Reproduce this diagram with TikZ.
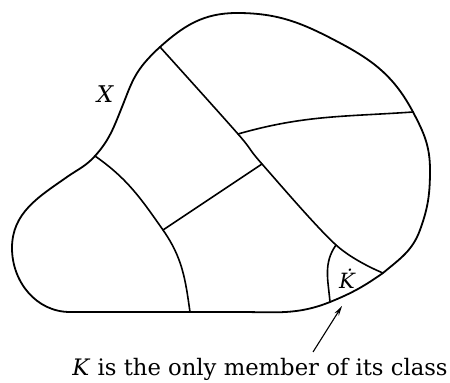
\documentclass[tikz,border=0pt]{standalone}
\usepackage{fontspec}
\setmainfont{DejaVu Serif}
\usepackage{tikz}
\usetikzlibrary{arrows.meta}
\tikzset{
  rim/.style={line width=1.8pt, line join=round, line cap=round},
  cut/.style={line width=1.6pt, line cap=round},
  lbl/.style={font=\fontsize{23}{26}\selectfont\itshape, inner sep=0pt},
}

\begin{document}
\begin{tikzpicture}[x=1pt, y=1pt]
  \useasboundingbox (0,0) rectangle (450,383);
  % junctions on the rim
  \coordinate (a) at (160,336);
  \coordinate (b) at (413,271);
  \coordinate (c) at (383,110);
  \coordinate (k) at (330,81);
  \coordinate (e) at (95,227);
  \coordinate (d) at (190,71);
  % junctions inside
  \coordinate (m1) at (238,249);
  \coordinate (m2) at (262,219);
  \coordinate (m3) at (163,153);
  \coordinate (k1) at (336,138);
  % the set X
  \draw[rim] (a) to[out=42,in=180] (237,370) to[out=0,in=152] (340,340)
    to[out=-28,in=118] (b)
    to[out=-62,in=90] (430,213) to[out=-90,in=70] (420,153)
    to[out=-110,in=40] (c) to[out=-145,in=22] (k)
    to[out=-158,in=0] (240,71) -- (70,71)
    to[out=180,in=-90] (12,135) to[out=90,in=-145] (67,206)
    to[out=35,in=-132] (e) to[out=48,in=-112] (122,276)
    to[out=68,in=-132] (147,323) to[out=48,in=-138] (a);
  % the classes
  \draw[cut] plot[smooth, tension=0.55] coordinates {(a) (m1) (m2) (k1) (c)};
  \draw[cut] (m1) to[out=16,in=184] (b);
  \draw[cut] (m2) -- (m3);
  \draw[cut] (e) to[out=-35,in=125] (m3) to[out=-55,in=98] (d);
  \draw[cut] (k1) to[out=-125,in=95] (k);
  \node[lbl] (xlbl) at (105,289) {X};
  \node[lbl, font=\fontsize{21}{24}\selectfont\itshape] (klbl) at (347,104) {\.{K}};
  % caption and arrow
  \node (cap) at (260,14) {\fontsize{22.7}{26}\selectfont\textit{K} is the only member of its class};
  \coordinate (tail) at (313,31);
  \coordinate (tip) at (342,77);
  \draw[line width=1.1pt, -{Stealth[length=10pt,width=5pt]}] (tail) -- (tip);
\end{tikzpicture}
\end{document}
